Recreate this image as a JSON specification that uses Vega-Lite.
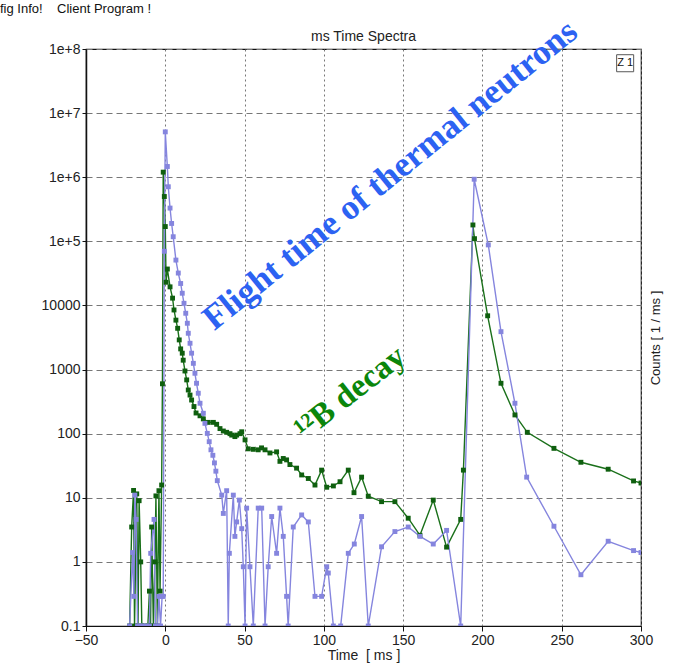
{
  "$schema": "https://vega.github.io/schema/vega-lite/v6.json",
  "width": 555,
  "height": 577,
  "autosize": "none",
  "padding": {"left": 86, "top": 49, "right": 32, "bottom": 44},
  "background": "white",
  "config": {
    "view": {"stroke": "#111", "strokeWidth": 1.2},
    "font": "Liberation Sans"
  },
  "datasets": {
    "spec": [
      {"t": -22.5, "c": 0.1, "s": "b"}, {"t": -21.2, "c": 3.5, "s": "b"}, {"t": -20, "c": 13, "s": "b"}, {"t": -19.4, "c": 0.1, "s": "b"},
      {"t": -18, "c": 11.5, "s": "b"}, {"t": -17.2, "c": 0.1, "s": "b"}, {"t": -16.5, "c": 9, "s": "b"}, {"t": -15.5, "c": 1, "s": "b"},
      {"t": -14.8, "c": 0.1, "s": "b"}, {"t": -13, "c": 0.1, "s": "b"}, {"t": -11, "c": 0.1, "s": "b"}, {"t": -10, "c": 0.35, "s": "b"},
      {"t": -9.3, "c": 0.1, "s": "b"}, {"t": -8.6, "c": 3.5, "s": "b"}, {"t": -7.5, "c": 0.1, "s": "b"}, {"t": -6.5, "c": 1, "s": "b"},
      {"t": -5.9, "c": 10.7, "s": "b"}, {"t": -5, "c": 0.1, "s": "b"}, {"t": -4, "c": 12.9, "s": "b"}, {"t": -3.3, "c": 0.35, "s": "b"},
      {"t": -2.3, "c": 15.8, "s": "b"}, {"t": -1.8, "c": 600, "s": "b"}, {"t": -1.3, "c": 1200000, "s": "b"}, {"t": -0.6, "c": 500000, "s": "b"},
      {"t": 0, "c": 170000, "s": "b"}, {"t": 0.5, "c": 23000, "s": "b"}, {"t": 1.3, "c": 37000, "s": "b"}, {"t": 3, "c": 19500, "s": "b"},
      {"t": 4.6, "c": 13000, "s": "b"}, {"t": 5.5, "c": 8500, "s": "b"}, {"t": 6.7, "c": 5900, "s": "b"}, {"t": 7.8, "c": 4400, "s": "b"},
      {"t": 8.8, "c": 2900, "s": "b"}, {"t": 9.7, "c": 2100, "s": "b"}, {"t": 10.7, "c": 1800, "s": "b"}, {"t": 11.3, "c": 1400, "s": "b"},
      {"t": 12.4, "c": 950, "s": "b"}, {"t": 13.5, "c": 690, "s": "b"}, {"t": 14.5, "c": 480, "s": "b"}, {"t": 15.6, "c": 400, "s": "b"},
      {"t": 16.6, "c": 335, "s": "b"}, {"t": 18.1, "c": 265, "s": "b"}, {"t": 19.4, "c": 210, "s": "b"}, {"t": 21.9, "c": 190, "s": "b"},
      {"t": 24, "c": 170, "s": "b"}, {"t": 27.1, "c": 150, "s": "b"}, {"t": 30.3, "c": 150, "s": "b"}, {"t": 32.4, "c": 140, "s": "b"},
      {"t": 34.5, "c": 120, "s": "b"}, {"t": 36.6, "c": 110, "s": "b"}, {"t": 38.7, "c": 105, "s": "b"}, {"t": 40.8, "c": 100, "s": "b"},
      {"t": 41.9, "c": 95, "s": "b"}, {"t": 43.9, "c": 90, "s": "b"}, {"t": 45, "c": 95, "s": "b"}, {"t": 47.1, "c": 100, "s": "b"},
      {"t": 48.2, "c": 107, "s": "b"}, {"t": 50.3, "c": 80, "s": "b"}, {"t": 52.3, "c": 58, "s": "b"}, {"t": 55.5, "c": 57, "s": "b"},
      {"t": 58.6, "c": 56, "s": "b"}, {"t": 60.7, "c": 60, "s": "b"}, {"t": 62.9, "c": 56, "s": "b"}, {"t": 66, "c": 50, "s": "b"},
      {"t": 70.2, "c": 52, "s": "b"}, {"t": 72.3, "c": 37, "s": "b"}, {"t": 74.4, "c": 41, "s": "b"}, {"t": 76.5, "c": 39, "s": "b"},
      {"t": 78.6, "c": 33, "s": "b"}, {"t": 82.8, "c": 29, "s": "b"}, {"t": 86, "c": 22.7, "s": "b"}, {"t": 90.2, "c": 20, "s": "b"},
      {"t": 94.4, "c": 15.8, "s": "b"}, {"t": 98.6, "c": 27, "s": "b"}, {"t": 101.8, "c": 14.6, "s": "b"}, {"t": 106, "c": 15.3, "s": "b"},
      {"t": 110.2, "c": 17.8, "s": "b"}, {"t": 115.4, "c": 27, "s": "b"}, {"t": 119, "c": 12, "s": "b"}, {"t": 123.8, "c": 21, "s": "b"},
      {"t": 128, "c": 10.6, "s": "b"}, {"t": 136.4, "c": 8.7, "s": "b"}, {"t": 144.8, "c": 8.7, "s": "b"}, {"t": 153.2, "c": 4.8, "s": "b"},
      {"t": 160.6, "c": 2.6, "s": "b"}, {"t": 169, "c": 9.2, "s": "b"}, {"t": 177.4, "c": 1.7, "s": "b"}, {"t": 186.3, "c": 4.6, "s": "b"},
      {"t": 188, "c": 27, "s": "b"}, {"t": 194, "c": 180000, "s": "b"}, {"t": 195, "c": 110000, "s": "b"}, {"t": 203.3, "c": 6900, "s": "b"},
      {"t": 211.7, "c": 611, "s": "b"}, {"t": 220.5, "c": 196, "s": "b"}, {"t": 228.3, "c": 105, "s": "b"}, {"t": 245.1, "c": 59, "s": "b"},
      {"t": 262.1, "c": 35.8, "s": "b"}, {"t": 279.3, "c": 27.9, "s": "b"}, {"t": 295.3, "c": 18.3, "s": "b"}, {"t": 300, "c": 17, "s": "b"},

      {"t": -22.5, "c": 0.1, "s": "n"}, {"t": -20.6, "c": 1.4, "s": "n"}, {"t": -19.8, "c": 0.29, "s": "n"}, {"t": -19.2, "c": 11, "s": "n"},
      {"t": -18.4, "c": 4.6, "s": "n"}, {"t": -17.5, "c": 0.1, "s": "n"}, {"t": -16, "c": 0.1, "s": "n"}, {"t": -14, "c": 0.1, "s": "n"},
      {"t": -12, "c": 0.1, "s": "n"}, {"t": -10, "c": 0.1, "s": "n"}, {"t": -9.2, "c": 1.36, "s": "n"}, {"t": -7.1, "c": 4.6, "s": "n"},
      {"t": -6.2, "c": 0.1, "s": "n"}, {"t": -5, "c": 0.1, "s": "n"}, {"t": -4, "c": 0.29, "s": "n"}, {"t": -3, "c": 0.1, "s": "n"},
      {"t": -2, "c": 0.29, "s": "n"}, {"t": -1.3, "c": 0.29, "s": "n"}, {"t": -0.6, "c": 70000, "s": "n"}, {"t": 0, "c": 5100000, "s": "n"},
      {"t": 1.3, "c": 1470000, "s": "n"}, {"t": 1.9, "c": 710000, "s": "n"}, {"t": 3, "c": 330000, "s": "n"}, {"t": 4, "c": 190000, "s": "n"},
      {"t": 5, "c": 118000, "s": "n"}, {"t": 6.7, "c": 51000, "s": "n"}, {"t": 8.2, "c": 32000, "s": "n"}, {"t": 9.7, "c": 22000, "s": "n"},
      {"t": 10.7, "c": 15500, "s": "n"}, {"t": 11.8, "c": 10800, "s": "n"}, {"t": 12.9, "c": 7550, "s": "n"}, {"t": 13.9, "c": 5270, "s": "n"},
      {"t": 14.5, "c": 3680, "s": "n"}, {"t": 15.6, "c": 2570, "s": "n"}, {"t": 16.6, "c": 1800, "s": "n"}, {"t": 17.7, "c": 1250, "s": "n"},
      {"t": 18.7, "c": 875, "s": "n"}, {"t": 19.7, "c": 611, "s": "n"}, {"t": 20.8, "c": 427, "s": "n"}, {"t": 21.9, "c": 298, "s": "n"},
      {"t": 24, "c": 208, "s": "n"}, {"t": 25, "c": 145, "s": "n"}, {"t": 26.5, "c": 101, "s": "n"}, {"t": 27.7, "c": 75, "s": "n"},
      {"t": 28.8, "c": 56, "s": "n"}, {"t": 30, "c": 46, "s": "n"}, {"t": 31, "c": 35, "s": "n"}, {"t": 31.9, "c": 26, "s": "n"},
      {"t": 32.8, "c": 18.5, "s": "n"}, {"t": 35.6, "c": 11, "s": "n"}, {"t": 36.6, "c": 5.7, "s": "n"}, {"t": 38.7, "c": 12.9, "s": "n"},
      {"t": 39.7, "c": 0.1, "s": "n"}, {"t": 40.4, "c": 1.36, "s": "n"}, {"t": 42.9, "c": 11, "s": "n"}, {"t": 43.9, "c": 2.5, "s": "n"},
      {"t": 45, "c": 4.2, "s": "n"}, {"t": 46.7, "c": 9.2, "s": "n"}, {"t": 48.2, "c": 3.3, "s": "n"}, {"t": 49.2, "c": 0.84, "s": "n"},
      {"t": 50.3, "c": 0.1, "s": "n"}, {"t": 51.3, "c": 6.9, "s": "n"}, {"t": 53.4, "c": 0.84, "s": "n"}, {"t": 55.5, "c": 0.1, "s": "n"},
      {"t": 58.6, "c": 6.9, "s": "n"}, {"t": 60.8, "c": 6.9, "s": "n"}, {"t": 62.9, "c": 0.1, "s": "n"}, {"t": 64.9, "c": 0.84, "s": "n"},
      {"t": 67.1, "c": 5.1, "s": "n"}, {"t": 70.2, "c": 1.36, "s": "n"}, {"t": 72.3, "c": 6.9, "s": "n"}, {"t": 74.4, "c": 2.5, "s": "n"},
      {"t": 76.5, "c": 0.29, "s": "n"}, {"t": 77.5, "c": 0.1, "s": "n"}, {"t": 80.7, "c": 3.5, "s": "n"}, {"t": 86, "c": 5.4, "s": "n"},
      {"t": 90.2, "c": 4.2, "s": "n"}, {"t": 94.4, "c": 0.29, "s": "n"}, {"t": 98.6, "c": 0.29, "s": "n"}, {"t": 101.8, "c": 0.84, "s": "n"},
      {"t": 102.8, "c": 0.67, "s": "n"}, {"t": 106, "c": 0.1, "s": "n"}, {"t": 110.6, "c": 0.1, "s": "n"}, {"t": 115.4, "c": 1.36, "s": "n"},
      {"t": 119.2, "c": 1.9, "s": "n"}, {"t": 123.8, "c": 5.1, "s": "n"}, {"t": 128, "c": 0.1, "s": "n"}, {"t": 136.4, "c": 1.72, "s": "n"},
      {"t": 144.8, "c": 2.97, "s": "n"}, {"t": 153.2, "c": 3.5, "s": "n"}, {"t": 160.6, "c": 2.5, "s": "n"}, {"t": 169, "c": 1.9, "s": "n"},
      {"t": 177.4, "c": 3.1, "s": "n"}, {"t": 186.3, "c": 0.1, "s": "n"}, {"t": 194.8, "c": 930000, "s": "n"}, {"t": 203.7, "c": 88000, "s": "n"},
      {"t": 211.7, "c": 3900, "s": "n"}, {"t": 220.5, "c": 298, "s": "n"}, {"t": 227.9, "c": 21, "s": "n"}, {"t": 245.1, "c": 3.6, "s": "n"},
      {"t": 262.1, "c": 0.63, "s": "n"}, {"t": 279.3, "c": 2.1, "s": "n"}, {"t": 295.3, "c": 1.5, "s": "n"}, {"t": 300, "c": 1.4, "s": "n"}
    ],
    "notes": [
      {"t": 141.7, "c": 1090000, "label": "Flight time of thermal neutrons", "k": "n"},
      {"t": 116.5, "c": 431, "label": "¹²B decay", "k": "b"}
    ],
    "heads": [
      {"label": "ms Time Spectra"}
    ],
    "menu": [
      {"label": "fig Info!\u00a0\u00a0\u00a0\u00a0Client Program !"}
    ],
    "zone": [
      {"label": "Z 1"}
    ]
  },
  "layer": [
    {
      "data": {"name": "spec"},
      "mark": {"type": "line", "strokeWidth": 1.4, "clip": true},
      "encoding": {
        "x": {"field": "t", "type": "quantitative",
              "scale": {"domain": [-50, 300], "nice": false, "zero": false},
              "axis": {"values": [-50, 0, 50, 100, 150, 200, 250, 300], "title": "Time\u00a0\u00a0[ ms ]",
                       "titleFontSize": 14, "titleFontWeight": "normal", "titleColor": "#222", "titlePadding": 1,
                       "labelFontSize": 14, "labelColor": "#222", "labelFlush": false, "labelPadding": 2,
                       "tickSize": 5, "tickColor": "#111", "domainColor": "#111",
                       "grid": true, "gridDash": [2, 3], "gridColor": "#777", "gridWidth": 1}},
        "y": {"field": "c", "type": "quantitative",
              "scale": {"type": "log", "domain": [0.1, 100000000], "nice": false},
              "axis": {"orient": "left", "values": [0.1, 1, 10, 100, 1000, 10000, 100000, 1000000, 10000000, 100000000],
                       "labelExpr": "datum.value >= 100000 ? '1e+' + round(log(datum.value)/LN10) : (datum.value < 1 ? '0.1' : format(datum.value, 'd'))",
                       "title": null, "labelFontSize": 14, "labelColor": "#222", "labelPadding": 2,
                       "tickSize": 4, "tickColor": "#111", "domainColor": "#111", "domainWidth": 1.5,
                       "grid": true, "gridDash": [6, 4], "gridColor": "#777", "gridWidth": 1}},
        "color": {"field": "s", "type": "nominal", "scale": {"domain": ["b", "n"], "range": ["#1a701a", "#8585de"]}, "legend": null}
      }
    },
    {
      "data": {"name": "spec"},
      "mark": {"type": "point", "shape": "square", "filled": true, "opacity": 1, "size": 24, "clip": true},
      "encoding": {
        "x": {"field": "t", "type": "quantitative"},
        "y": {"field": "c", "type": "quantitative",
              "axis": {"orient": "right", "labels": false, "ticks": false, "domain": false, "grid": false,
                       "title": "Counts [ 1 / ms ]", "titleAngle": 270, "titleFontSize": 13, "titleFontWeight": "normal",
                       "titleColor": "#222", "titlePadding": 21}},
        "color": {"field": "s", "type": "nominal", "scale": {"domain": ["b", "n"], "range": ["#0f5f0f", "#8585de"]}, "legend": null}
      }
    },
    {
      "data": {"name": "notes"},
      "mark": {"type": "text", "font": "Liberation Serif", "fontWeight": "bold", "align": "center", "baseline": "middle"},
      "encoding": {
        "x": {"field": "t", "type": "quantitative"},
        "y": {"field": "c", "type": "quantitative", "axis": null},
        "text": {"field": "label"},
        "angle": {"field": "k", "type": "nominal", "scale": {"domain": ["n", "b"], "range": [321, 322]}, "legend": null},
        "size": {"field": "k", "type": "nominal", "scale": {"domain": ["n", "b"], "range": [35, 33]}, "legend": null},
        "color": {"field": "k", "type": "nominal", "scale": {"domain": ["n", "b"], "range": ["#2c62f2", "#0b860b"]}, "legend": null}
      }
    },
    {
      "data": {"name": "heads"},
      "mark": {"type": "text", "align": "center", "baseline": "middle", "dy": -12, "fontSize": 14, "font": "Liberation Sans", "color": "#222"},
      "encoding": {
        "x": {"datum": 125},
        "y": {"datum": 100000000, "axis": null},
        "text": {"field": "label"}
      }
    },
    {
      "data": {"name": "menu"},
      "mark": {"type": "text", "align": "left", "baseline": "middle", "dx": -86, "dy": -40, "fontSize": 13, "font": "Liberation Sans", "color": "#111"},
      "encoding": {
        "x": {"datum": -50},
        "y": {"datum": 100000000, "axis": null},
        "text": {"field": "label"}
      }
    },
    {
      "data": {"name": "zone"},
      "mark": {"type": "point", "shape": "square", "filled": false, "size": 290, "stroke": "#111", "strokeWidth": 1},
      "encoding": {
        "x": {"datum": 290},
        "y": {"datum": 60000000, "axis": null}
      }
    },
    {
      "data": {"name": "zone"},
      "mark": {"type": "text", "align": "center", "baseline": "middle", "fontSize": 11, "font": "Liberation Sans", "color": "#111"},
      "encoding": {
        "x": {"datum": 290},
        "y": {"datum": 60000000, "axis": null},
        "text": {"field": "label"}
      }
    }
  ],
  "resolve": {"axis": {"y": "independent"}, "scale": {"color": "independent"}}
}
